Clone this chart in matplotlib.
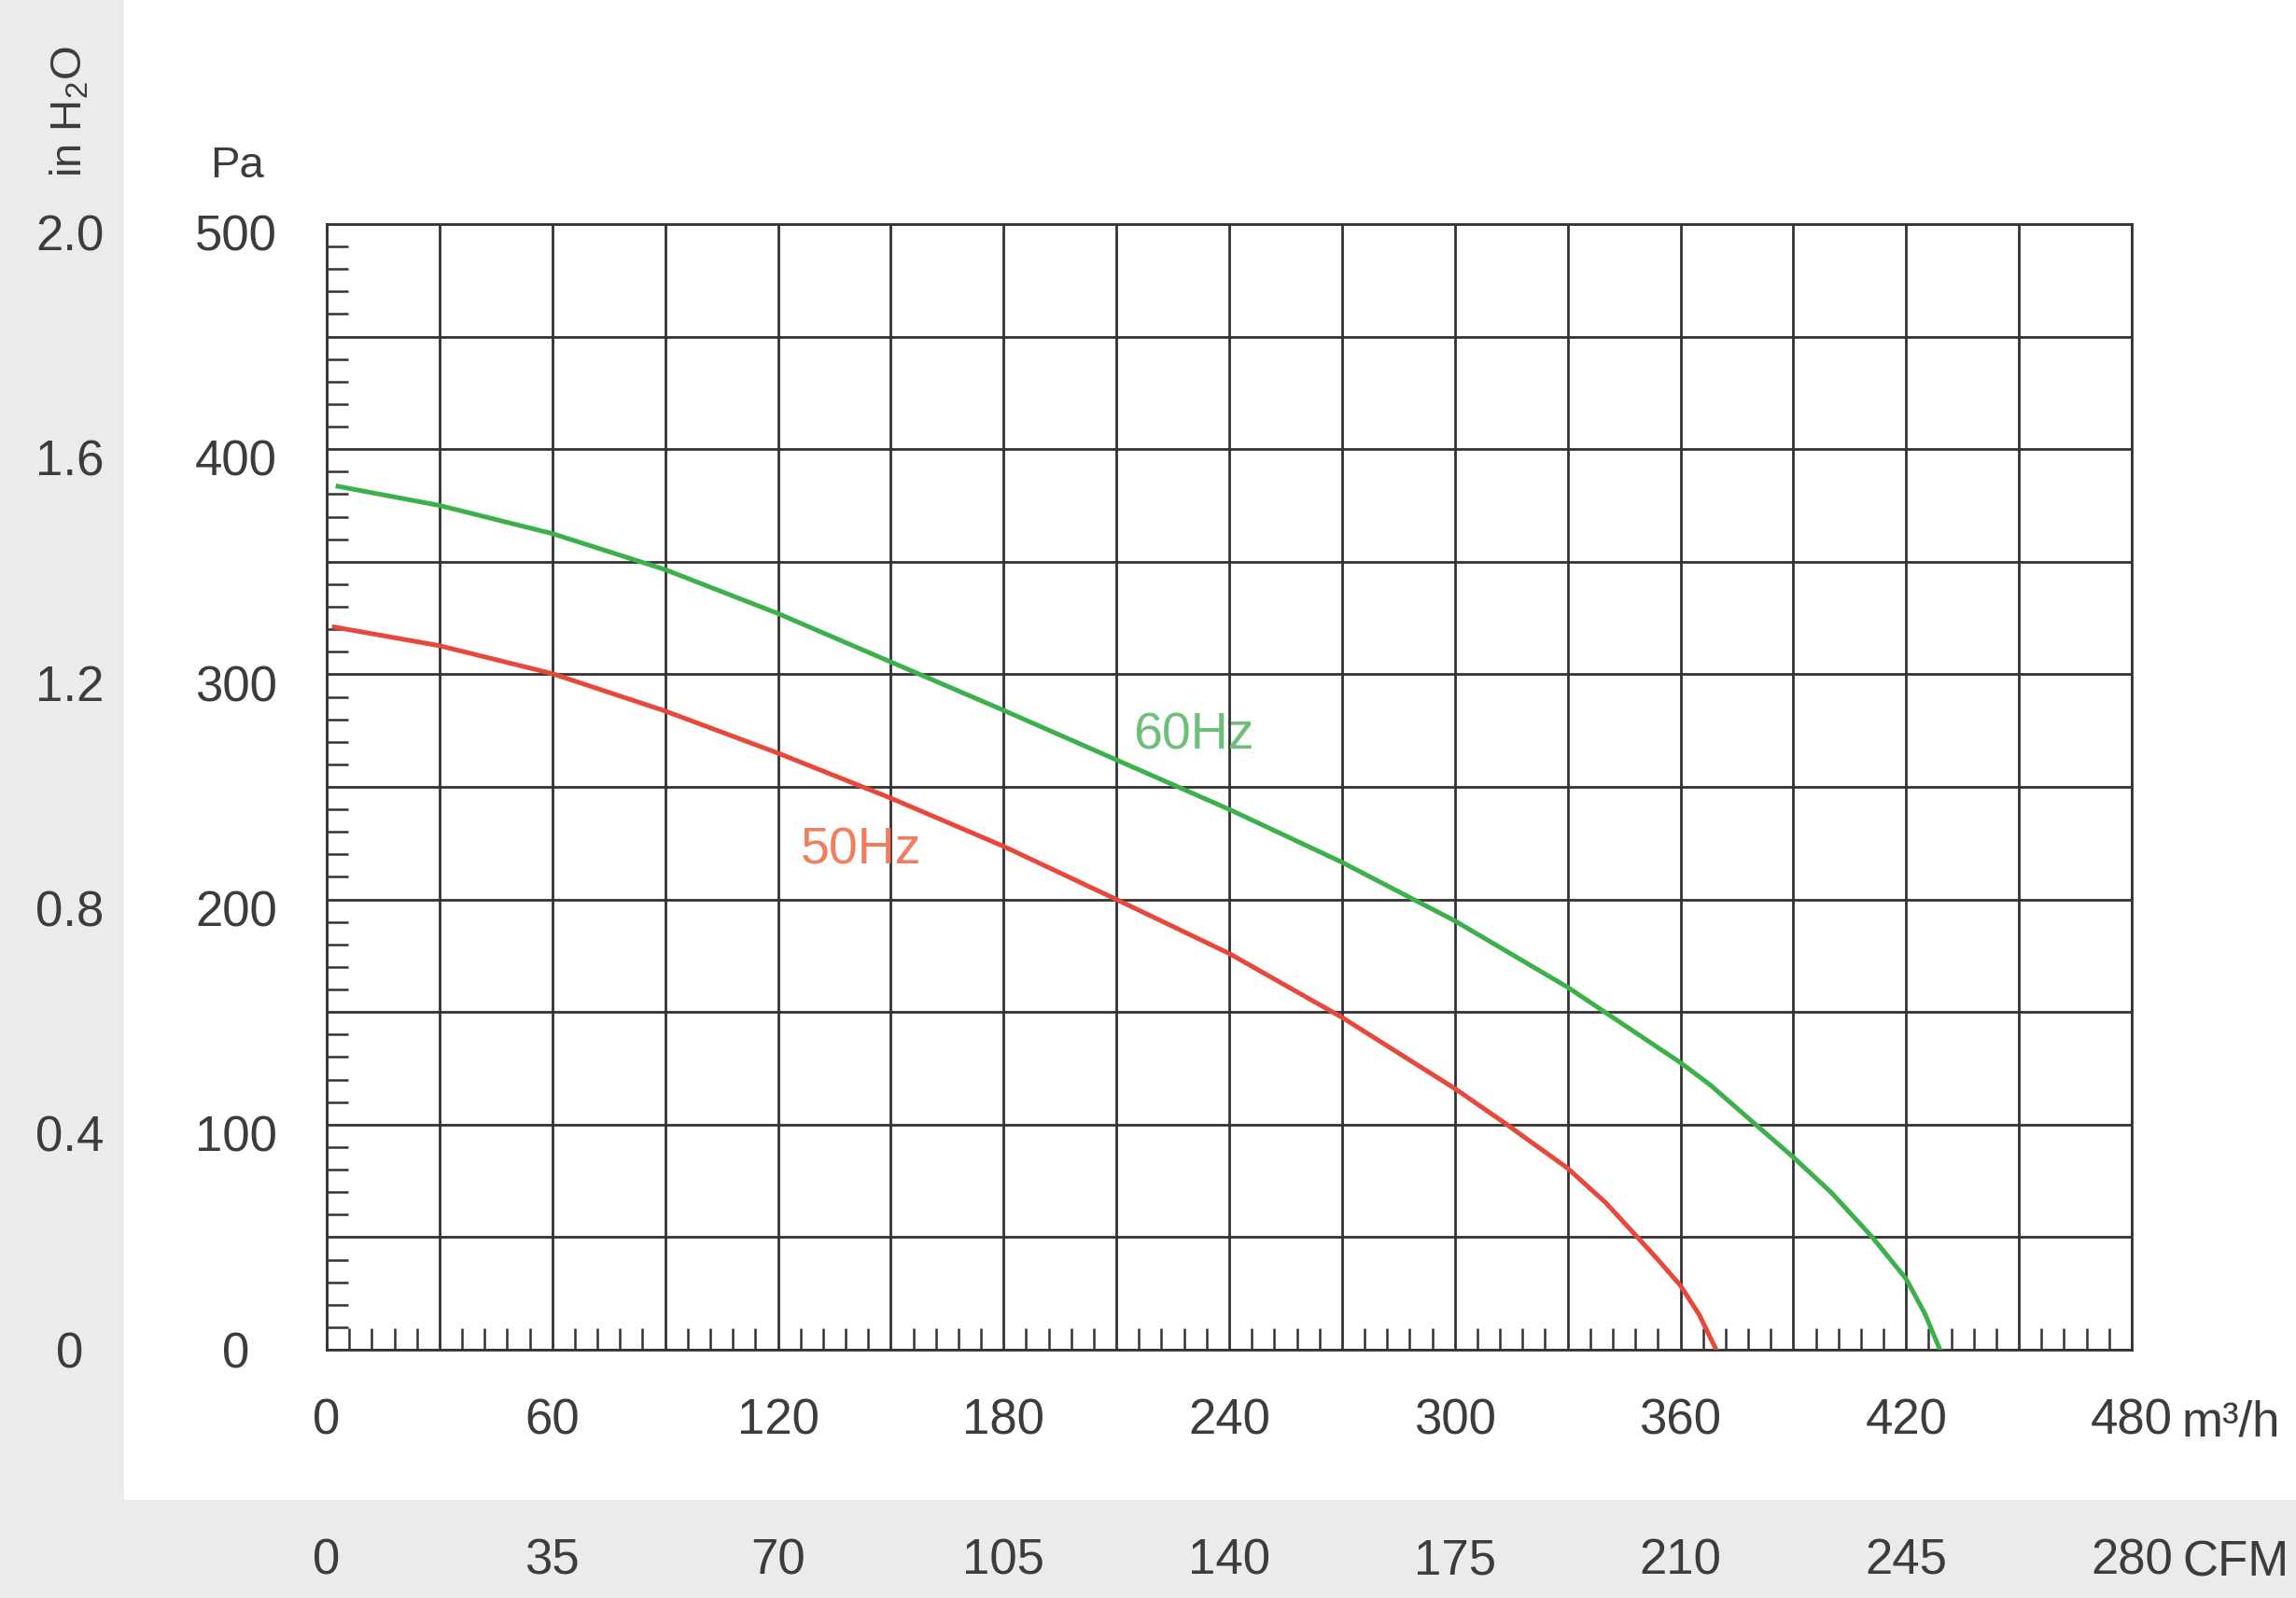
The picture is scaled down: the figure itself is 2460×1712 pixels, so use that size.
import matplotlib
matplotlib.use("Agg")
import matplotlib.pyplot as plt
import matplotlib.transforms as mtransforms
from matplotlib.patches import Rectangle
from matplotlib.ticker import MultipleLocator, NullLocator

plt.rcParams['font.family'] = ['Liberation Sans', 'DejaVu Sans']
plt.rcParams['mathtext.fontset'] = 'custom'
plt.rcParams['mathtext.rm'] = 'Liberation Sans'
plt.rcParams['mathtext.it'] = 'Liberation Sans:italic'

# ---- data ----
flow_60 = [3, 30, 60, 90, 120, 150, 180, 210, 240, 270, 300, 330, 360, 368, 380, 390, 400, 411, 420, 425, 429]
pa_60 = [383.5, 375, 362.5, 346.5, 327, 305.5, 284, 262, 240, 216.5, 190.5, 161, 127.5, 117.5, 100, 85.5, 70, 50, 31.5, 16, 0]

flow_50 = [2, 30, 60, 90, 120, 150, 180, 210, 240, 270, 300, 313, 330, 340, 348, 354, 360, 365, 369.5]
pa_50 = [321, 312.7, 300.3, 283.7, 265, 245, 223.6, 200, 176, 147.6, 116, 101, 80.6, 65.5, 51, 40, 28.5, 15.5, 0]

flow_grid = list(range(0, 481, 30))
flow_labels = [str(v) if v % 60 == 0 else '' for v in flow_grid]
pa_grid = list(range(0, 501, 50))
pa_labels = [str(v) if v % 100 == 0 else '' for v in pa_grid]
cfm_ticks = [0, 35, 70, 105, 140, 175, 210, 245, 280]
inh2o_ticks = [0, 0.4, 0.8, 1.2, 1.6, 2.0]
inh2o_labels = ['0', '0.4', '0.8', '1.2', '1.6', '2.0']

label_pos = {'60Hz': (230.6, 272.4), '50Hz': (142, 221.8)}

TXT = '#3c3c3c'
GRID = '#333333'
GREEN = '#3cb04a'
RED = '#e8473c'

W, H = 2460, 1712
fig = plt.figure(figsize=(W / 200, H / 200), dpi=200, facecolor='white')

# gray margins (scanned background)
fig.patches.append(Rectangle((0, 0), 133 / W, 1, transform=fig.transFigure,
                             facecolor='#ebebeb', edgecolor='none', zorder=-10))
fig.patches.append(Rectangle((0, 0), 1, 105 / H, transform=fig.transFigure,
                             facecolor='#ebebeb', edgecolor='none', zorder=-10))

L, R, T, B = 350, 2284, 240, 1446
ax = fig.add_axes([L / W, 1 - B / H, (R - L) / W, (B - T) / H])
ax.set_facecolor('white')
ax.set_xlim(0, 480)
ax.set_ylim(0, 500)

ax.set_xticks(flow_grid, flow_labels)
ax.set_yticks(pa_grid, pa_labels)
ax.xaxis.set_minor_locator(MultipleLocator(6))
ax.yaxis.set_minor_locator(MultipleLocator(10))
ax.grid(True, which='major', color=GRID, lw=1.0)
ax.set_axisbelow(True)
for s in ax.spines.values():
    s.set_color(GRID)
    s.set_linewidth(1.0)

ax.tick_params(which='major', length=0, labelsize=19, labelcolor=TXT)
ax.tick_params(which='minor', direction='in', length=8.3, width=0.9, color=GRID)
ax.tick_params(axis='x', which='major', pad=18.5)
ax.tick_params(axis='y', which='major', pad=35)
for t in ax.get_yticklabels():
    t.set_horizontalalignment('center')

# curves
ax.plot(flow_60, pa_60, color=GREEN, lw=1.8, zorder=5, solid_joinstyle='round')
ax.plot(flow_50, pa_50, color=RED, lw=1.8, zorder=5, solid_joinstyle='round')
ax.text(*label_pos['60Hz'], '60Hz', color='#6dbf7b', fontsize=20, ha='center', va='center')
ax.text(*label_pos['50Hz'], '50Hz', color='#f27c5c', fontsize=20, ha='center', va='center')

# axis unit labels
ax.set_ylabel('Pa', rotation=0, fontsize=17, color=TXT, ha='center', va='center')
ax.yaxis.set_label_coords(-0.0496, 1.0514)
ax.set_xlabel('m³/h', fontsize=19, color=TXT, ha='left', va='baseline')
ax.xaxis.set_label_coords(1.0279, -0.0763)

# secondary axis: inH2O
sec_y = ax.secondary_yaxis('left', functions=(lambda p: p / 250.0, lambda h: h * 250.0))
sec_y.set_yticks(inh2o_ticks, inh2o_labels)
sec_y.yaxis.set_minor_locator(NullLocator())
sec_y.spines['left'].set_visible(False)
sec_y.tick_params(which='both', length=0, pad=99, labelsize=19, labelcolor=TXT)
for t in sec_y.get_yticklabels():
    t.set_horizontalalignment('center')
sec_y.set_ylabel('in H$_2$O', rotation=90, fontsize=17, color=TXT, ha='center', va='center')
sec_y.yaxis.set_label_coords(-0.1422, 1.0995, transform=ax.transAxes)

# secondary axis: CFM
sec_x = ax.secondary_xaxis('bottom', functions=(lambda q: q * 280.0 / 480.0, lambda c: c * 480.0 / 280.0))
sec_x.set_xticks(cfm_ticks, [str(v) for v in cfm_ticks])
sec_x.xaxis.set_minor_locator(NullLocator())
sec_x.spines['bottom'].set_visible(False)
sec_x.tick_params(which='both', length=0, pad=72.5, labelsize=19, labelcolor=TXT)
sec_x.set_xlabel('CFM', fontsize=19, color=TXT, ha='left', va='baseline')
sec_x.xaxis.set_label_coords(1.0279, -0.2007, transform=ax.transAxes)

# the printed y labels sit slightly below their grid lines (except at zero)
shift = mtransforms.ScaledTranslation(0, -3.3 / 72, fig.dpi_scale_trans)
for axis in (ax.yaxis, sec_y.yaxis):
    for tk in axis.get_major_ticks():
        if abs(tk.get_loc()) > 1e-9:
            tk.label1.set_transform(tk.label1.get_transform() + shift)

fig.savefig('out.png', dpi=200, facecolor=fig.get_facecolor())
